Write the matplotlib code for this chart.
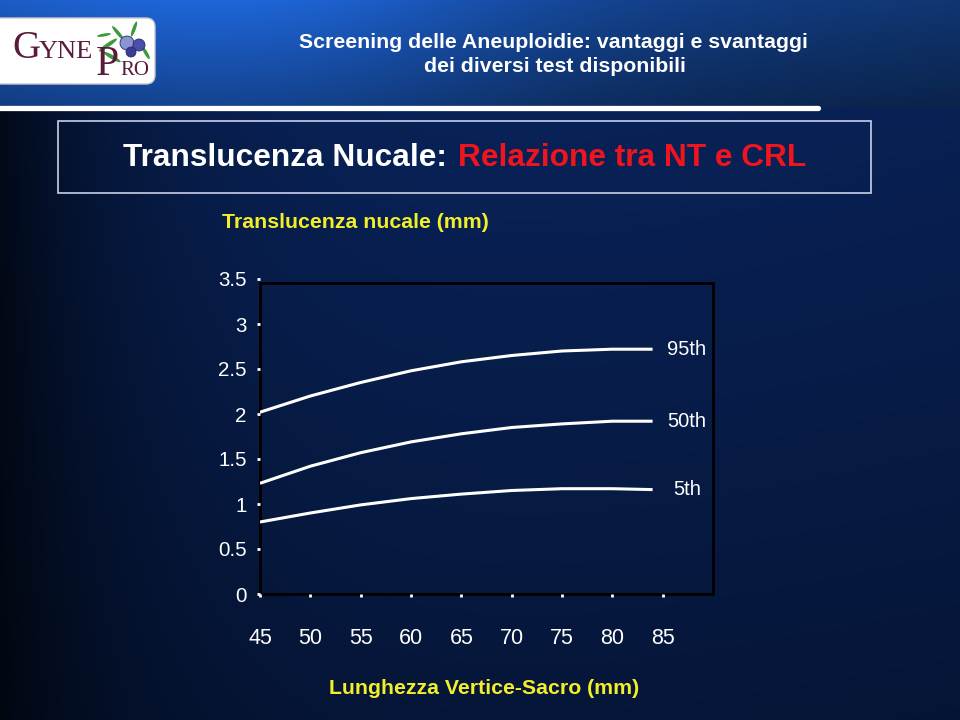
import numpy as np
import matplotlib.pyplot as plt
from matplotlib.patches import FancyBboxPatch, Rectangle, Circle, Ellipse
from matplotlib.lines import Line2D

# data
crl = [45, 50, 55, 60, 65, 70, 75, 80, 84]
p95 = [2.02, 2.20, 2.35, 2.48, 2.58, 2.65, 2.70, 2.72, 2.72]
p50 = [1.23, 1.42, 1.57, 1.69, 1.78, 1.85, 1.89, 1.92, 1.92]
p5 = [0.80, 0.90, 0.99, 1.06, 1.11, 1.15, 1.17, 1.17, 1.16]
curve_labels = ['95th', '50th', '5th']
x_ticks = [45, 50, 55, 60, 65, 70, 75, 80, 85]
y_ticks = [0, 0.5, 1, 1.5, 2, 2.5, 3, 3.5]
y_tick_labels = ['0', '0.5', '1', '1.5', '2', '2.5', '3', '3.5']

FONT = ['Liberation Sans', 'DejaVu Sans']
SERIF = ['Liberation Serif', 'DejaVu Serif']
YELLOW = '#f2ef2a'
RED = '#f0141e'
MAROON = '#5a1a3c'

W, H = 960, 720
fig = plt.figure(figsize=(W / 100, H / 100), dpi=100)

# --- slide background -------------------------------------------------
bg = fig.add_axes([0, 0, 1, 1])
bg.set_axis_off()
yy = np.linspace(0, 1, H)[:, None]
xx = np.linspace(0, 1, W)[None, :]
navy = np.array([0.04, 0.16, 0.41])
f_h = 1 - 0.75 * np.exp(-xx / 0.16) - 0.15 * xx
f_v = 1 - 0.40 * yy
img = navy[None, None, :] * (f_h * f_v)[:, :, None]
hh = 108 / H
head = np.array([0.09, 0.30, 0.64])
hf = (1 + 0.40 * np.exp(-((xx - 0.25) / 0.30) ** 2) - 0.30 * xx) * (1 - 0.35 * yy / hh)
head_img = head[None, None, :] * hf[:, :, None]
mask = (yy < hh)[:, :, None] * np.ones((1, W, 1))
img = np.where(mask > 0, head_img, img)
bg.imshow(np.clip(img, 0, 1), extent=[0, 1, 0, 1], aspect='auto', origin='upper')
bg.set_xlim(0, 1)
bg.set_ylim(0, 1)

# white rule under the header
fig.add_artist(Line2D([0, 818 / W], [1 - 108 / H] * 2, color='white', lw=3.8,
                      solid_capstyle='round', transform=fig.transFigure))

# logo (axes in pixel units: x 0..160, y 0..70 from pixel row 85 upwards)
logo = fig.add_axes([0, 1 - 85 / H, 160 / W, 70 / H])
logo.set_xlim(0, 160)
logo.set_ylim(0, 70)
logo.set_axis_off()
logo.add_patch(FancyBboxPatch((-12, 1), 167, 66, boxstyle='round,pad=0,rounding_size=9',
                              fc='white', ec='#c8c8c8', lw=1))
for (cx, cy, w, h, a) in [(108, 40, 22, 4, 35), (112, 28, 20, 4, -30), (134, 56, 16, 3.5, 70),
                           (118, 52, 18, 3.5, -50), (146, 32, 14, 3.5, -60), (104, 50, 14, 3, 10)]:
    logo.add_patch(Ellipse((cx, cy), w, h, angle=a, fc='#3c9a3c', ec='none'))
for (cx, cy, r, c) in [(127, 42, 7, '#8a94d0'), (139, 40, 6, '#4a4fa8'), (131, 33, 5, '#3a3c90')]:
    logo.add_patch(Circle((cx, cy), r, fc=c, ec='#2a2a70', lw=0.6))
logo.text(12, 27, 'G', family=SERIF, fontsize=28, color=MAROON, va='baseline')
logo.text(39, 27, 'YNE', family=SERIF, fontsize=19, color=MAROON, va='baseline')
logo.text(96, 10, 'P', family=SERIF, fontsize=30, color=MAROON, va='baseline')
logo.text(120, 10, 'RO', family=SERIF, fontsize=15, color=MAROON, va='baseline')

# header title
fig.text(553 / W, 1 - 42 / H, 'Screening delle Aneuploidie: vantaggi e svantaggi',
         ha='center', va='center', color='white', fontsize=15.3, weight='bold', family=FONT)
fig.text(555 / W, 1 - 67 / H, 'dei diversi test disponibili',
         ha='center', va='center', color='white', fontsize=15.3, weight='bold', family=FONT)

# framed slide title
fig.add_artist(Rectangle((58 / W, 1 - 193 / H), 813 / W, 72 / H, fill=False,
                         ec='#c8d0e8', lw=1.2, transform=fig.transFigure))
fig.text(447 / W, 1 - 158 / H, 'Translucenza Nucale:', ha='right', va='center',
         color='white', fontsize=22.8, weight='bold', family=FONT)
fig.text(458 / W, 1 - 158 / H, 'Relazione tra NT e CRL', ha='left', va='center',
         color=RED, fontsize=22.8, weight='bold', family=FONT)

# --- chart -------------------------------------------------------------
ax = fig.add_axes([260 / W, 1 - 594 / H, 453 / W, 315 / H])
ax.patch.set_alpha(0)
ax.set_xlim(45, 90)
ax.set_ylim(0, 3.5)
for s in ax.spines.values():
    s.set_visible(False)
ax.add_patch(Rectangle((0, 0), 1, 3.455 / 3.5, transform=ax.transAxes, fill=False,
                       ec='black', lw=2, clip_on=False))

for vals in (p95, p50, p5):
    ax.plot(crl, vals, color='white', lw=2.2, solid_capstyle='butt')
for vals, lab in zip((p95, p50, p5), curve_labels):
    ax.text(87.4, vals[-1], lab, ha='center', va='center', color='white',
            fontsize=14.5, family=FONT)

ax.set_xticks(x_ticks)
ax.set_xticklabels([str(v) for v in x_ticks])
ax.set_yticks(y_ticks)
ax.set_yticklabels(y_tick_labels)
ax.tick_params(axis='y', colors='white', length=2, width=2, pad=7.5, labelsize=14.8)
ax.tick_params(axis='x', colors='white', length=2, width=2, pad=22.5, labelsize=15.5)
for lab in ax.get_xticklabels() + ax.get_yticklabels():
    lab.set_family(FONT)

fig.text(222 / W, 1 - 222 / H, 'Translucenza nucale (mm)', ha='left', va='center',
         color=YELLOW, fontsize=15.3, weight='bold', family=FONT)
fig.text(484 / W, 1 - 688 / H, 'Lunghezza Vertice-Sacro (mm)', ha='center', va='center',
         color=YELLOW, fontsize=15.3, weight='bold', family=FONT)

fig.savefig('out.png', dpi=100)
